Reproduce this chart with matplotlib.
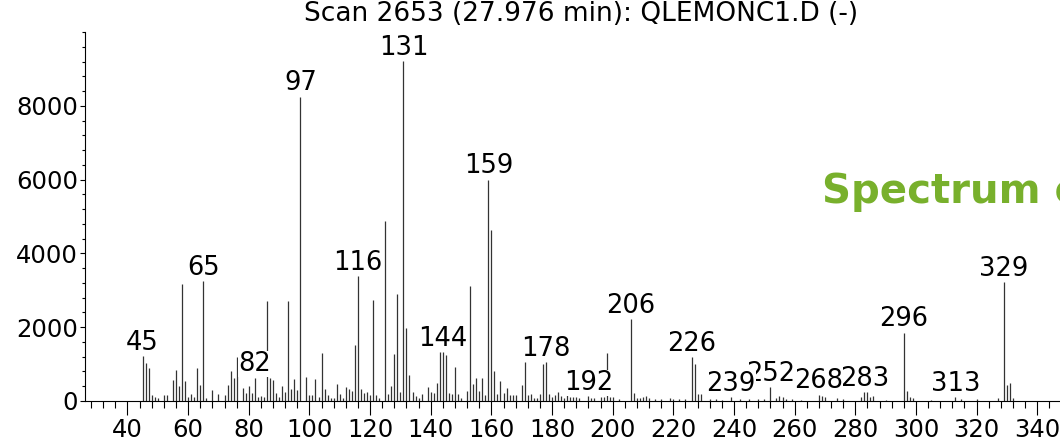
import matplotlib
matplotlib.use("Agg")
import matplotlib.pyplot as plt
from matplotlib.ticker import MultipleLocator

# --- peak list (m/z, abundance) ---
mz = [45, 46, 47, 48, 49, 50, 52, 53, 55, 56, 57, 58, 59, 60, 61, 62, 63, 64, 65, 66,
      68, 70, 72, 73, 74, 75, 76, 78, 79, 80, 81, 82, 83, 84, 85, 86, 87, 88, 89, 90,
      91, 92, 93, 94, 95, 96, 97, 99, 100, 101, 102, 103, 104, 105, 106, 107, 108, 109,
      110, 111, 112, 113, 114, 115, 116, 117, 118, 119, 120, 121, 122, 123, 125, 126,
      127, 128, 129, 130, 131, 132, 133, 134, 135, 136, 137, 139, 140, 141, 142, 143,
      144, 145, 146, 147, 148, 149, 150, 152, 153, 154, 155, 156, 157, 158, 159, 160,
      161, 162, 163, 164, 165, 166, 167, 168, 170, 171, 172, 173, 174, 175, 176, 177,
      178, 179, 180, 181, 182, 183, 184, 185, 186, 187, 188, 189, 192, 193, 194, 196,
      197, 198, 199, 200, 202, 206, 207, 208, 209, 210, 211, 212, 214, 216, 219, 220,
      222, 224, 226, 227, 228, 229, 232, 234, 236, 239, 242, 245, 248, 250, 252, 254,
      255, 256, 257, 259, 262, 268, 269, 270, 274, 276, 282, 283, 284, 285, 286, 290,
      296, 297, 298, 299, 305, 313, 315, 320, 327, 329, 330, 331, 332]
intensity = [1220, 1040, 895, 155, 118, 90, 154, 154, 570, 840, 407, 3180, 542, 100, 190,
             118, 904, 434, 3245, 72, 290, 190, 163, 434, 823, 624, 1193, 362, 208, 407,
             208, 633, 108, 145, 118, 2712, 624, 570, 226, 118, 407, 253, 2720, 316, 597,
             298, 8250, 651, 154, 154, 597, 108, 1300, 325, 163, 81, 72, 461, 190, 81,
             370, 316, 271, 1520, 3380, 325, 208, 235, 154, 2740, 154, 72, 4890, 190, 398,
             1266, 2911, 235, 9220, 1985, 705, 253, 145, 72, 190, 389, 235, 208, 488, 1329,
             1329, 1248, 208, 190, 913, 190, 72, 280, 3120, 461, 615, 271, 633, 163, 6000,
             4640, 823, 190, 551, 226, 353, 154, 154, 154, 434, 1058, 163, 181, 72, 90,
             190, 1012, 1058, 190, 118, 154, 244, 136, 90, 154, 100, 100, 100, 90, 140, 90,
             90, 100, 100, 1293, 100, 100, 60, 2220, 208, 72, 90, 100, 136, 72, 63, 63, 90,
             63, 63, 63, 1193, 1012, 181, 181, 54, 63, 40, 110, 45, 50, 45, 60, 380, 90,
             136, 100, 54, 54, 40, 172, 136, 118, 72, 54, 100, 235, 235, 118, 136, 40,
             1850, 271, 118, 81, 30, 110, 63, 63, 90, 3220, 425, 488, 90]

# peaks that carry an m/z label
labelled = [45, 65, 82, 97, 116, 131, 144, 159, 178, 192, 206, 226, 239, 252, 268,
            283, 296, 313, 329]

title = "Scan 2653 (27.976 min): QLEMONC1.D (-)"
banner = "Spectrum of"


def main():
    fig = plt.figure(figsize=(10.6, 4.43), dpi=100)
    ax = fig.add_axes([85 / 1060, 42 / 443, 975 / 1060, 369 / 443])

    # stick spectrum
    ax.vlines(mz, 0, intensity, colors="#333333", linewidth=0.9, zorder=2)

    ax.set_xlim(26, 347.5)
    ax.set_ylim(0, 10000)

    # axes look: only left + bottom, ticks outward
    for side in ("top", "right"):
        ax.spines[side].set_visible(False)
    ax.spines["left"].set_linewidth(0.8)
    ax.spines["bottom"].set_linewidth(0.8)

    ax.set_xticks(range(40, 341, 20))
    ax.xaxis.set_minor_locator(MultipleLocator(4))
    ax.set_yticks([0, 2000, 4000, 6000, 8000])
    ax.yaxis.set_minor_locator(MultipleLocator(400))
    ax.tick_params(axis="x", which="major", direction="out", length=10, width=0.8,
                   labelsize=17.5, pad=2)
    ax.tick_params(axis="x", which="minor", direction="out", length=5, width=0.8)
    ax.tick_params(axis="y", which="major", direction="out", length=3.6, width=0.8,
                   labelsize=17.5, pad=1.5)
    ax.tick_params(axis="y", which="minor", direction="out", length=2.2, width=0.8)

    # peak labels, white boxes; smaller peaks drawn last so they sit on top
    height = dict(zip(mz, intensity))
    order = sorted(labelled, key=lambda m: -height[m])
    for i, m in enumerate(order):
        ax.annotate(str(m), (m, height[m]), xytext=(0, 4.5), textcoords="offset points",
                    ha="center", va="baseline", fontsize=18.5,
                    bbox=dict(facecolor="white", edgecolor="none", pad=0),
                    zorder=3 + i, annotation_clip=False)

    fig.text(0.548, 0.968, title, ha="center", va="center", fontsize=19)
    fig.text(822 / 1060, 1 - 202.7 / 443, banner, ha="left", va="baseline",
             fontsize=29, fontweight="bold", color="#78b02c")

    fig.savefig("out.png", dpi=100)


if __name__ == "__main__":
    main()
